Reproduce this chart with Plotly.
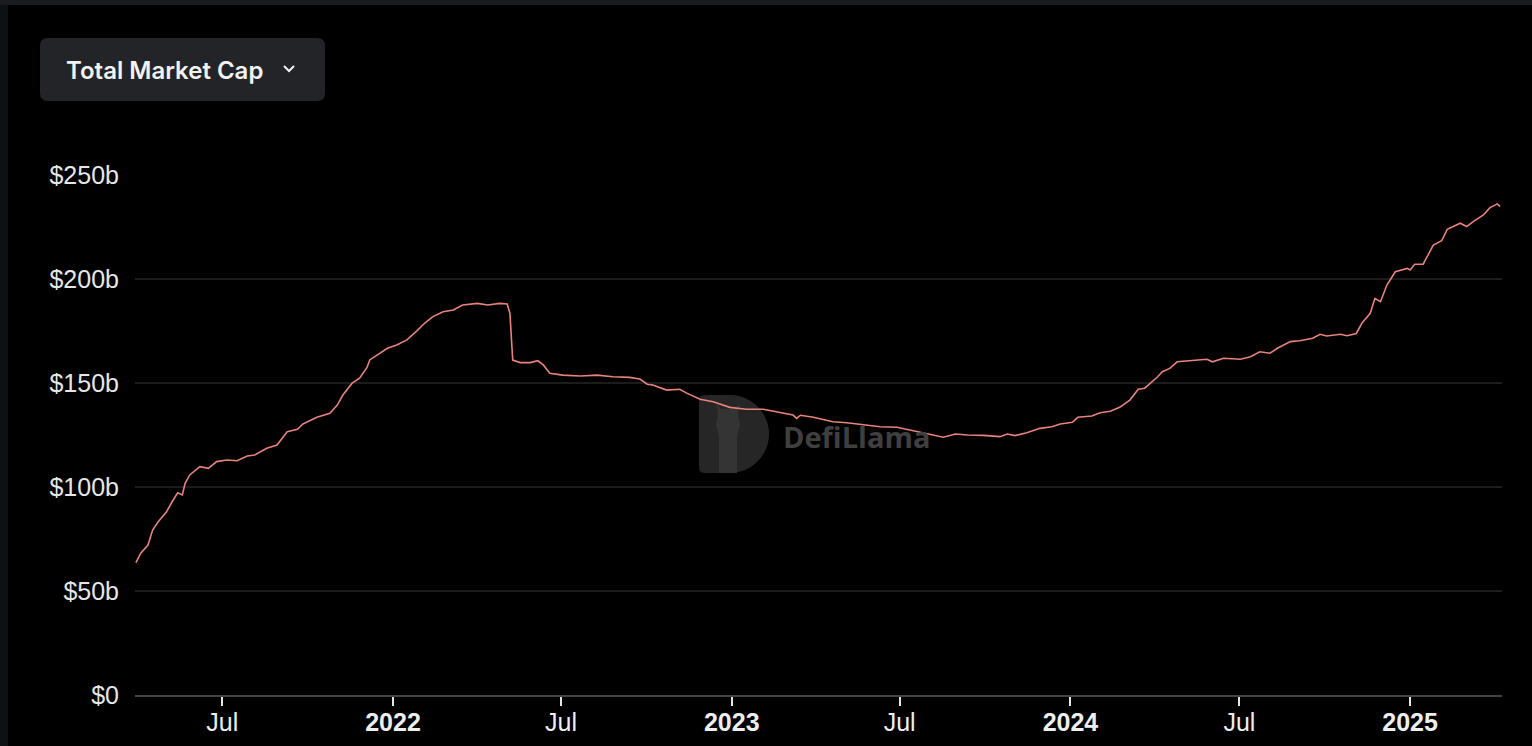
import plotly.graph_objects as go

# Total stablecoin market cap (in $ billions)
dates = [
    "2021-03-30", "2021-04-04", "2021-04-12", "2021-04-17", "2021-04-23", "2021-05-02",
    "2021-05-08", "2021-05-14", "2021-05-19", "2021-05-22", "2021-05-27", "2021-06-07",
    "2021-06-16", "2021-06-25", "2021-07-06", "2021-07-17", "2021-07-28", "2021-08-05",
    "2021-08-18", "2021-08-29", "2021-09-09", "2021-09-20", "2021-09-26", "2021-10-11",
    "2021-10-25", "2021-11-02", "2021-11-08", "2021-11-18", "2021-11-26", "2021-12-04",
    "2021-12-07", "2021-12-18", "2021-12-26", "2022-01-05", "2022-01-16", "2022-01-27",
    "2022-02-04", "2022-02-13", "2022-02-24", "2022-03-07", "2022-03-17", "2022-04-02",
    "2022-04-13", "2022-04-26", "2022-05-04", "2022-05-07", "2022-05-10", "2022-05-18",
    "2022-05-29", "2022-06-06", "2022-06-12", "2022-06-19", "2022-07-03", "2022-07-22",
    "2022-08-09", "2022-08-26", "2022-09-13", "2022-09-24", "2022-10-02", "2022-10-08",
    "2022-10-23", "2022-11-06", "2022-11-14", "2022-11-28", "2022-12-12", "2022-12-30",
    "2023-01-17", "2023-02-04", "2023-02-22", "2023-03-08", "2023-03-12", "2023-03-16",
    "2023-03-30", "2023-04-20", "2023-05-05", "2023-05-23", "2023-06-10", "2023-06-28",
    "2023-07-15", "2023-08-03", "2023-08-17", "2023-08-30", "2023-09-12", "2023-09-29",
    "2023-10-17", "2023-10-25", "2023-11-02", "2023-11-15", "2023-11-29", "2023-12-12",
    "2023-12-21", "2024-01-03", "2024-01-09", "2024-01-24", "2024-02-02", "2024-02-13",
    "2024-02-23", "2024-03-05", "2024-03-14", "2024-03-21", "2024-03-29", "2024-04-04",
    "2024-04-09", "2024-04-17", "2024-04-25", "2024-05-09", "2024-05-27", "2024-06-02",
    "2024-06-14", "2024-07-02", "2024-07-13", "2024-07-23", "2024-08-03", "2024-08-11",
    "2024-08-25", "2024-09-04", "2024-09-18", "2024-09-26", "2024-10-03", "2024-10-18",
    "2024-10-25", "2024-11-04", "2024-11-10", "2024-11-19", "2024-11-24", "2024-11-30",
    "2024-12-07", "2024-12-16", "2024-12-29", "2025-01-01", "2025-01-06", "2025-01-15",
    "2025-01-26", "2025-02-04", "2025-02-10", "2025-02-24", "2025-03-03", "2025-03-10",
    "2025-03-21", "2025-03-28", "2025-04-05", "2025-04-08",
]
mcap = [
    63.6, 68.1, 72.1, 79.3, 83.3, 88.1,
    92.9, 97.2, 96.2, 101.8, 105.8, 109.8,
    109.0, 112.2, 113.0, 112.6, 114.9, 115.4,
    118.6, 120.2, 126.6, 127.7, 130.3, 133.5,
    135.4, 139.4, 144.2, 149.9, 152.3, 157.5,
    161.1, 164.3, 166.7, 168.3, 170.7, 175.2,
    178.7, 181.9, 184.3, 185.1, 187.5, 188.3,
    187.5, 188.3, 188.0, 183.5, 161.0, 159.8,
    159.8, 160.7, 158.7, 154.7, 153.8, 153.4,
    153.8, 153.0, 152.7, 151.9, 149.4, 149.0,
    146.6, 147.0, 145.0, 142.2, 141.0, 138.3,
    137.4, 137.4, 136.0, 134.6, 133.0, 134.5,
    133.5, 131.4, 130.9, 129.8, 129.0, 128.7,
    127.1, 125.5, 123.9, 125.5, 125.0, 124.8,
    124.2, 125.5, 124.7, 126.1, 128.2, 129.0,
    130.3, 131.1, 133.5, 134.1, 135.7, 136.4,
    138.3, 141.8, 147.0, 147.5, 150.6, 153.0,
    155.4, 157.0, 160.2, 160.7, 161.4, 160.2,
    161.9, 161.4, 162.6, 165.0, 164.3, 166.7,
    169.9, 170.3, 171.5, 173.4, 172.6, 173.4,
    172.7, 173.8, 178.7, 183.5, 190.7, 189.1,
    197.1, 203.5, 205.1, 204.3, 207.1, 207.1,
    216.3, 218.4, 223.9, 226.8, 225.2, 227.6,
    230.8, 234.3, 236.1, 234.8,
]

y_ticks = [0, 50, 100, 150, 200, 250]
y_tick_text = ["$0", "$50b", "$100b", "$150b", "$200b", "$250b"]
x_ticks = ["2021-07-01", "2022-01-01", "2022-07-01", "2023-01-01",
           "2023-07-01", "2024-01-01", "2024-07-01", "2025-01-01"]
x_tick_text = ["Jul", "<b>2022</b>", "Jul", "<b>2023</b>",
               "Jul", "<b>2024</b>", "Jul", "<b>2025</b>"]

W, H = 1532, 746
ML, MR, MT, MB = 135, 30, 175, 51
PW, PH = W - ML - MR, H - MT - MB


def px(x):
    return (x - ML) / PW


def py(y):
    return (H - MB - y) / PH


fig = go.Figure()
fig.add_trace(go.Scatter(
    x=dates, y=mcap, mode="lines",
    line=dict(color="#e8827c", width=1.6),
    hoverinfo="x+y", showlegend=False,
))

shapes = []
# window chrome strips
shapes.append(dict(type="rect", xref="paper", yref="paper", x0=px(0), x1=px(W), y0=py(5), y1=py(0),
                   fillcolor="#1b1c20", line_width=0, layer="below"))
shapes.append(dict(type="rect", xref="paper", yref="paper", x0=px(0), x1=px(8), y0=py(H), y1=py(5),
                   fillcolor="#0d1114", line_width=0, layer="below"))

# dropdown button (pixel coordinates relative to the plot's top-left corner)
btn = "M -87,137 L 182,137 Q 190,137 190,129 L 190,82 Q 190,74 182,74 L -87,74 Q -95,74 -95,82 L -95,129 Q -95,137 -87,137 Z"
shapes.append(dict(type="path", xref="paper", yref="paper", xsizemode="pixel", ysizemode="pixel",
                   xanchor=0, yanchor=1, path=btn, fillcolor="#232428", line_width=0))
shapes.append(dict(type="path", xref="paper", yref="paper", xsizemode="pixel", ysizemode="pixel",
                   xanchor=0, yanchor=1, path="M 149,109 L 154,104 L 159,109",
                   line=dict(color="#f2f2f2", width=2)))

# watermark logo
logo = ("M 0,6 Q 0,0 6,0 L 31,0 C 52.5,0 70,17.5 70,39 C 70,60.5 52.5,78 31,78 "
        "L 6,78 Q 0,78 0,72 Z")
shapes.append(dict(type="path", xref="paper", yref="paper", xsizemode="pixel", ysizemode="pixel",
                   xanchor=px(699), yanchor=py(473), path=logo, fillcolor="#262626",
                   line_width=0, layer="below"))
llama = ("M 20,0 L 20,36 L 17,48 L 19,60 L 17,70 L 22,64 L 36,64 L 41,70 L 39,60 "
         "L 41,48 L 38,36 L 38,0 Z")
shapes.append(dict(type="path", xref="paper", yref="paper", xsizemode="pixel", ysizemode="pixel",
                   xanchor=px(699), yanchor=py(473), path=llama, fillcolor="#343434",
                   line_width=0, layer="below"))

annotations = [
    dict(text="Total Market Cap", xref="paper", yref="paper", x=px(64), y=py(70),
         xanchor="left", yanchor="middle", showarrow=False,
         font=dict(family="Inter", size=24, color="#f2f2f2", weight=600)),
    dict(text="<b>DefiLlama</b>", xref="paper", yref="paper", x=px(781), y=py(436),
         xanchor="left", yanchor="middle", showarrow=False,
         font=dict(family="Open Sans", size=29, color="#3f3f3f")),
]

fig.update_layout(
    width=W, height=H,
    margin=dict(l=ML, r=MR, t=MT, b=MB),
    paper_bgcolor="#000000", plot_bgcolor="#000000",
    shapes=shapes, annotations=annotations,
    font=dict(family="Liberation Sans", color="#e6e6e6"),
    xaxis=dict(
        type="date", range=["2021-03-29", "2025-04-10"],
        tickvals=x_ticks, ticktext=x_tick_text,
        showgrid=False, zeroline=False, automargin=False,
        showline=True, linecolor="#444444", linewidth=2,
        ticks="outside", ticklen=9, tickwidth=2, tickcolor="#e6e6e6",
        ticklabelstandoff=-5,
        tickfont=dict(size=25, color="#eeeeee"),
    ),
    yaxis=dict(
        range=[0, 250], tickvals=y_ticks, ticktext=y_tick_text,
        showgrid=True, gridcolor="#1c1c1c", gridwidth=1.5,
        zeroline=False, ticks="", ticklabelstandoff=15, automargin=False,
        tickfont=dict(size=25, color="#e6e6e6"),
    ),
)

fig.write_html(
    "out.html",
    config={"displayModeBar": False},
    post_script=(
        "document.documentElement.style.overflow='hidden';"
        "document.body.style.overflow='hidden';"
        "document.body.style.margin='0';"
        "document.body.style.height='746px';"
        "document.body.style.background='#000';"
    ),
)
